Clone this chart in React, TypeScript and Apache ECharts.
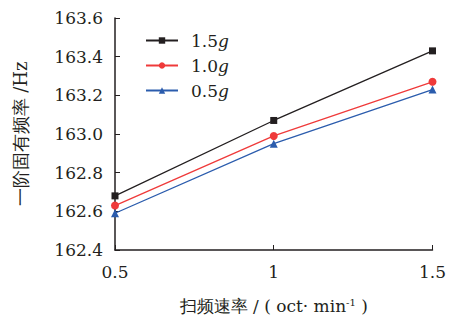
import React, { useEffect, useRef } from "react";
import * as echarts from "echarts";

const xValues = [0.5, 1, 1.5];
const seriesNames = ["1.5", "1.0", "0.5"];
const s15 = [162.68, 163.07, 163.43];
const s10 = [162.63, 162.99, 163.27];
const s05 = [162.59, 162.95, 163.23];
const colors = ["#231f20", "#ef3a3a", "#2b5cad"];
const symbols = ["rect", "circle", "triangle"];

export default function App() {
  const ref = useRef<HTMLDivElement>(null);
  useEffect(() => {
    if (!ref.current) return;
    const chart = echarts.init(ref.current, null, { renderer: "svg" });
    const font = "DejaVu Serif";
    const all = [s15, s10, s05];
    chart.setOption({
      animation: false,
      textStyle: { fontFamily: font },
      grid: { left: 115, right: 15, top: 18, bottom: 72 },
      legend: {
        left: 140,
        top: 27,
        orient: "vertical",
        itemGap: 8,
        itemWidth: 32,
        itemHeight: 8,
        data: seriesNames,
        formatter: (n: string) => n + "{i|g}",
        textStyle: {
          fontFamily: font,
          fontSize: 17,
          color: "#231f20",
          padding: [0, 0, 0, 8],
          rich: { i: { fontFamily: font, fontSize: 17, fontStyle: "italic", color: "#231f20" } },
        },
      },
      xAxis: {
        type: "value",
        min: 0.5,
        max: 1.5,
        interval: 0.5,
        axisLine: { lineStyle: { color: "#231f20", width: 1.5 } },
        axisTick: { inside: true, length: 5, lineStyle: { color: "#231f20" } },
        splitLine: { show: false },
        axisLabel: {
          fontFamily: font,
          fontSize: 17,
          color: "#231f20",
          margin: 13,
          formatter: (v: number) => String(v),
        },
        name: "扫频速率 / ( oct· min{s|-1} )",
        nameLocation: "middle",
        nameGap: 47,
        nameTextStyle: {
          fontFamily: font,
          fontSize: 17,
          color: "#231f20",
          rich: { s: { fontFamily: font, fontSize: 10, verticalAlign: "top", padding: [0, 0, 8, 0], color: "#231f20" } },
        },
      },
      yAxis: {
        type: "value",
        min: 162.4,
        max: 163.6,
        interval: 0.2,
        axisLine: { show: true, lineStyle: { color: "#231f20", width: 1.5 } },
        axisTick: { show: true, inside: true, length: 5, lineStyle: { color: "#231f20" } },
        splitLine: { show: false },
        axisLabel: {
          fontFamily: font,
          fontSize: 17,
          color: "#231f20",
          margin: 12,
          formatter: (v: number) => v.toFixed(1),
        },
        name: "一阶固有频率 /Hz",
        nameLocation: "middle",
        nameGap: 86,
        nameTextStyle: { fontFamily: font, fontSize: 18, color: "#231f20" },
      },
      series: seriesNames.map((name, i) => ({
        name,
        type: "line",
        data: xValues.map((x, j) => [x, all[i][j]]),
        symbol: symbols[i],
        symbolSize: i === 0 ? 7 : 8,
        showSymbol: true,
        itemStyle: { color: colors[i] },
        lineStyle: { color: colors[i], width: 1.3 },
      })),
    });
    return () => chart.dispose();
  }, []);
  return <div ref={ref} style={{ width: 449, height: 322, position: "absolute", left: 0, top: 0 }} />;
}
